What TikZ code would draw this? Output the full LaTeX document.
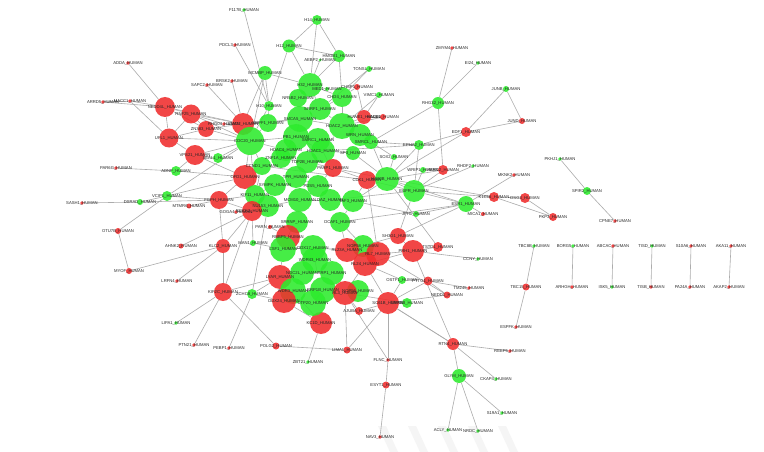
\documentclass[tikz,border=0pt]{standalone}
\usepackage{fontspec}
\setmainfont{Liberation Sans}
\pgfdeclarelayer{bg}\pgfdeclarelayer{fg}
\pgfsetlayers{bg,main,fg}
\definecolor{gn}{RGB}{45,235,45}
\definecolor{rd}{RGB}{240,45,45}
\definecolor{eg}{RGB}{172,172,172}
\newcommand\mkn[6]{\node[vx,fill=#4,minimum size=#5*2pt] (#1) at (#2,#3) {};\begin{pgfonlayer}{fg}\node[lab] at (#1.center) {#6\_HUMAN};\end{pgfonlayer}}
\begin{document}
\begin{tikzpicture}[x=1pt,y=-1pt,
  vx/.style={circle,inner sep=0pt,draw=none,fill opacity=0.88},
  lab/.style={inner sep=0pt,font=\fontsize{4.2}{4.6}\selectfont,text=black!85},
  lnk/.style={draw=eg,line width=0.6pt}]
\useasboundingbox (0,0) rectangle (764,452);
\begin{pgfonlayer}{bg}
\fill[white] (0,0) rectangle (764,452);
\foreach \xx in {378,408,438,468,498}{\fill[black!4] (\xx,426) -- (\xx+8,426) -- (\xx+20,452) -- (\xx+12,452) -- cycle;}
\end{pgfonlayer}
% left / top-left
\mkn{adda}{128}{63}{rd}{1.8}{ADDA}
\mkn{arrd5}{103}{102}{rd}{1.8}{ARRD5}
\mkn{macc}{130}{101}{rd}{1.8}{MACC1}
\mkn{nedd4l}{165}{107}{rd}{10}{NEDD4L}
\mkn{rnf25}{191}{114}{rd}{9.5}{RNF25}
\mkn{zn383}{206}{129}{rd}{8}{ZN383}
\mkn{rhg04}{224}{124}{rd}{1.8}{RHG04}
\mkn{ufl1}{169}{138}{rd}{9.5}{UFL1}
\mkn{vps21}{195}{155}{rd}{10}{VPS21}
\mkn{seal1}{218}{158}{gn}{5}{SEAL1}
\mkn{par6g}{116}{168}{rd}{1.8}{PAR6G}
\mkn{adnp}{176}{171}{gn}{5}{ADNP}
\mkn{vcip1}{167}{196}{gn}{5}{VCIP1}
\mkn{dsrad}{140}{202}{gn}{3}{DSRAD}
\mkn{sash1}{82}{203}{rd}{1.8}{SASH1}
\mkn{fgph}{219}{200}{rd}{9}{FGPH}
\mkn{mtmr6}{189}{206}{rd}{2.5}{MTMR6}
\mkn{goga4}{236}{212}{rd}{1.8}{GOGA4}
\mkn{otu7b}{118}{231}{rd}{3}{OTU7B}
\mkn{ahnk2}{181}{246}{rd}{2.5}{AHNK2}
\mkn{klc2}{223}{246}{rd}{7}{KLC2}
\mkn{man1}{253}{243}{gn}{3}{MAN1}
\mkn{myof}{129}{271}{rd}{3}{MYOF}
\mkn{lrfn4}{177}{281}{rd}{1.8}{LRFN4}
\mkn{kif2c}{223}{292}{rd}{9}{KIF2C}
\mkn{zchc8}{252}{294}{gn}{5}{ZCHC8}
\mkn{lipa1}{176}{323}{gn}{1.8}{LIPA1}
\mkn{ptn21}{194}{345}{rd}{1.8}{PTN21}
\mkn{pebp1}{229}{348}{rd}{1.8}{PEBP1}
\mkn{polg2}{276}{346}{rd}{3.5}{POLG2}
\mkn{zbt21}{308}{362}{gn}{1.8}{ZBT21}
\mkn{lima1}{347}{350}{rd}{3.5}{LIMA1}
\mkn{kc1d}{321}{323}{rd}{11}{KC1D}
\mkn{flnc}{388}{360}{rd}{1.8}{FLNC}
\mkn{esyt1}{386}{385}{rd}{3.5}{ESYT1}
\mkn{nav3}{380}{437}{rd}{1.8}{NAV3}
% top
\mkn{f117b}{244}{10}{gn}{1.8}{F117B}
\mkn{pdcl3}{235}{45}{rd}{1.8}{PDCL3}
\mkn{brsk2}{232}{81}{rd}{1.8}{BRSK2}
\mkn{sapc2}{207}{85}{rd}{1.8}{SAPC2}
\mkn{h14}{317}{20}{gn}{5}{H14}
\mkn{h12}{289}{46}{gn}{6.5}{H12}
\mkn{hmgb1}{339}{56}{gn}{6}{HMGB1}
\mkn{aebp2}{320}{60}{gn}{1.5}{AEBP2}
\mkn{tonsl}{369}{69}{gn}{3}{TONSL}
\mkn{mcmbp}{265}{73}{gn}{7}{MCMBP}
\mkn{h32}{310}{85}{gn}{12}{H32}
\mkn{med1}{327}{89}{gn}{2}{MED1}
\mkn{chsp1}{357}{87}{rd}{3}{CHSP1}
\mkn{vimc1}{379}{95}{gn}{3}{VIMC1}
\mkn{nr5b2}{298}{98}{gn}{9}{NR5B2}
\mkn{chd4}{342}{97}{gn}{10}{CHD4}
\mkn{h10}{269}{106}{gn}{5}{H10}
\mkn{srrf1}{320}{109}{gn}{11}{SRRF1}
\mkn{huwe1}{364}{117}{rd}{7}{HUWE1}
\mkn{hace1}{383}{117}{rd}{3}{HACE1}
% core
\mkn{atad2}{243}{124}{rd}{11}{ATAD2}
\mkn{brpf1}{268}{123}{gn}{9}{BRPF1}
\mkn{cdc20}{250}{141}{gn}{14}{CDC20}
\mkn{smca5}{300}{119}{gn}{13}{SMCA5}
\mkn{hdac2}{342}{126}{gn}{13}{HDAC2}
\mkn{wrn}{360}{135}{gn}{11}{WRN}
\mkn{xl}{371}{142}{gn}{7}{SMRCL}
\mkn{pb1}{296}{137}{gn}{13}{PB1}
\mkn{c1}{318}{140}{gn}{12}{SMRC1}
\mkn{hdac4}{286}{150}{gn}{11}{HDAC4}
\mkn{hdac1}{323}{151}{gn}{12}{HDAC1}
\mkn{x3}{353}{153}{gn}{7}{SP3}
\mkn{znf1a}{281}{158}{gn}{10}{ZNF1A}
\mkn{top2b}{307}{162}{gn}{11}{TOP2B}
\mkn{parp1}{333}{168}{rd}{9}{PARP1}
\mkn{ofd1}{245}{177}{rd}{12}{OFD1}
\mkn{ccnd1}{262}{166}{gn}{9}{CCND1}
\mkn{tpr}{296}{177}{gn}{11}{TPR}
\mkn{sympk}{275}{185}{gn}{11}{SYMPK}
\mkn{pds5}{318}{186}{gn}{11}{PDS5}
\mkn{kif11}{255}{195}{gn}{10}{KIF11}
\mkn{cdk1}{367}{180}{rd}{9}{CDK1}
\mkn{hs90b}{387}{179}{gn}{12}{HS90B}
\mkn{mcm10}{300}{200}{gn}{12}{MCM10}
\mkn{oaz}{330}{200}{gn}{11}{OAZ}
\mkn{taf3}{353}{201}{gn}{11}{TAF3}
\mkn{nu153}{268}{206}{gn}{11}{NU153}
\mkn{rock2}{252}{211}{rd}{10}{ROCK2}
\mkn{srrnp}{297}{222}{gn}{11}{SRRNP}
\mkn{dcaf1}{340}{222}{gn}{10}{DCAF1}
\mkn{parn}{270}{227}{rd}{2}{PARN}
\mkn{rbbp5}{288}{237}{rd}{12}{RBBP5}
\mkn{csf1}{283}{249}{gn}{13}{CSF1}
\mkn{ddx17}{313}{248}{gn}{13}{DDX17}
\mkn{g363}{363}{246}{gn}{11}{NOP58}
\mkn{rl23a}{347}{250}{rd}{12}{RL23A}
\mkn{rl7}{378}{254}{rd}{12}{RL7}
\mkn{rl24}{365}{264}{rd}{12}{RL24}
\mkn{wdr43}{315}{260}{gn}{13}{WDR43}
\mkn{lyar}{280}{277}{rd}{12}{LYAR}
\mkn{noc2}{302}{273}{gn}{12}{NOC2L}
\mkn{rrp1}{332}{273}{gn}{12}{RRP1}
\mkn{wdr3}{293}{291}{gn}{13}{WDR3}
\mkn{rrp1b}{323}{290}{gn}{13}{RRP1B}
\mkn{nop56}{358}{291}{gn}{11}{NOP56}
\mkn{rl3}{345}{293}{rd}{12}{RL3}
\mkn{ddx24}{284}{301}{rd}{12}{DDX24}
\mkn{utp20}{313}{303}{gn}{13}{UTP20}
% right
\mkn{sox2}{394}{157}{gn}{3}{SOX2}
\mkn{epha2}{419}{145}{gn}{5}{EPHA2}
\mkn{wrip1}{423}{170}{gn}{3}{WRIP1}
\mkn{herc2}{443}{170}{rd}{5}{HERC2}
\mkn{egfr}{414}{191}{gn}{11}{EGFR}
\mkn{rhdf2}{473}{166}{gn}{1.8}{RHDF2}
\mkn{mknk2}{514}{175}{rd}{1.8}{MKNK2}
\mkn{k1c16}{494}{197}{rd}{5}{K1C16}
\mkn{dsg3}{525}{198}{rd}{5}{DSG3}
\mkn{pkp3}{553}{217}{rd}{4}{PKP3}
\mkn{micat}{483}{214}{rd}{2}{MICA1}
\mkn{esr1}{466}{204}{gn}{8}{ESR1}
\mkn{jph1}{416}{214}{gn}{3}{JPH1}
\mkn{sh3g1}{398}{236}{rd}{8}{SH3G1}
\mkn{prh1}{413}{251}{rd}{11}{PRH1}
\mkn{tstd1}{438}{247}{rd}{5}{TSTD1}
\mkn{ccny}{478}{259}{gn}{1.8}{CCNY}
\mkn{ostf1}{402}{280}{gn}{4}{OSTF1}
\mkn{pttg1}{428}{281}{rd}{4.5}{PTTG1}
\mkn{tm245}{469}{288}{rd}{1.8}{TM245}
\mkn{nedd1}{447}{295}{rd}{3.5}{NEDD1}
\mkn{sc61b}{388}{303}{rd}{11}{SC61B}
\mkn{srprs}{407}{303}{gn}{5}{SRPRB}
\mkn{ajuba}{359}{311}{rd}{4}{AJUBA}
\mkn{rtn4}{453}{344}{rd}{6}{RTN4}
\mkn{glym}{459}{376}{gn}{7}{GLYM}
\mkn{ckap4}{496}{379}{gn}{1.8}{CKAP4}
\mkn{reep5}{510}{351}{rd}{1.8}{REEP5}
\mkn{s19a1}{502}{413}{gn}{1.8}{S19A1}
\mkn{acly}{448}{430}{gn}{1.8}{ACLY}
\mkn{nrdc}{478}{431}{gn}{1.8}{NRDC}
\mkn{espfk}{516}{327}{rd}{1.8}{ESPFK}
\mkn{tbc15}{526}{287}{rd}{3.5}{TBC15}
\mkn{tbc8b}{534}{246}{gn}{1.8}{TBC8B}
\mkn{borg5}{573}{246}{gn}{1.8}{BORG5}
\mkn{arhgh}{572}{287}{rd}{1.8}{ARHGH}
\mkn{abcac}{613}{246}{rd}{1.8}{ABCAC}
\mkn{isk5}{612}{287}{gn}{1.8}{ISK5}
\mkn{tisd}{652}{246}{gn}{1.8}{TISD}
\mkn{tisb}{651}{287}{rd}{1.8}{TISB}
\mkn{s10a6}{691}{246}{rd}{1.8}{S10A6}
\mkn{pa24a}{690}{287}{rd}{1.8}{PA24A}
\mkn{aka11}{731}{246}{rd}{1.8}{AKA11}
\mkn{akap2}{729}{287}{rd}{1.8}{AKAP2}
\mkn{pkhj1}{560}{159}{gn}{1.8}{PKHJ1}
\mkn{spir2}{587}{191}{gn}{4}{SPIR2}
\mkn{cpne7}{615}{221}{rd}{1.8}{CPNE7}
\mkn{zmym4}{452}{48}{rd}{1.8}{ZMYM4}
\mkn{ei24}{478}{63}{gn}{1.8}{EI24}
\mkn{rhg32}{438}{103}{gn}{6}{RHG32}
\mkn{junb}{506}{89}{gn}{3}{JUNB}
\mkn{jund}{522}{121}{rd}{3}{JUND}
\mkn{edf1}{466}{132}{rd}{5}{EDF1}
\begin{pgfonlayer}{bg}
\foreach \a/\b in {adda/nedd4l,arrd5/macc,macc/nedd4l,macc/ufl1,arrd5/nedd4l,nedd4l/rnf25,nedd4l/ufl1,nedd4l/zn383,nedd4l/atad2,rnf25/zn383,rnf25/ufl1,rnf25/atad2,rnf25/cdc20,zn383/cdc20,zn383/atad2,rhg04/atad2,rhg04/rnf25,ufl1/vps21,ufl1/cdc20,ufl1/zn383,vps21/seal1,vps21/ofd1,vps21/cdc20,seal1/cdc20,vps21/adnp,par6g/adnp,adnp/ofd1,vcip1/ofd1,vcip1/fgph,vcip1/dsrad,vcip1/cdc20,dsrad/sash1,dsrad/fgph,mtmr6/fgph,fgph/ofd1,fgph/rock2,fgph/kif11,goga4/rock2,otu7b/vcip1,otu7b/myof,myof/klc2,ahnk2/rock2,klc2/rock2,klc2/fgph,lrfn4/klc2,kif2c/rock2,kif2c/klc2,kif2c/lipa1,kif2c/ptn21,kif2c/polg2,kif2c/lyar,zchc8/lyar,zchc8/pebp1,zchc8/nu153,man1/rock2,man1/csf1,polg2/lima1,kc1d/zbt21,kc1d/ddx24,kc1d/utp20,kc1d/wdr3,lima1/sc61b,lima1/rl3,flnc/esyt1,esyt1/nav3,flnc/sc61b,flnc/rl3,f117b/h10,pdcl3/h10,brsk2/atad2,sapc2/atad2,h14/h12,h14/hmgb1,h14/h32,h12/hmgb1,h12/h32,h12/h10,hmgb1/h32,hmgb1/chd4,aebp2/h32,mcmbp/h10,mcmbp/h32,mcmbp/cdc20,mcmbp/atad2,h32/nr5b2,h32/srrf1,h32/chd4,h32/med1,tonsl/chd4,tonsl/srrf1,chsp1/chd4,chsp1/huwe1,vimc1/huwe1,vimc1/hdac2,h10/brpf1,h10/cdc20,hace1/huwe1,hace1/hdac2,zmym4/rhg32,ei24/rhg32,rhg32/xl,rhg32/herc2,junb/edf1,junb/jund,jund/edf1,edf1/epha2,edf1/hs90b,epha2/xl,epha2/hs90b,epha2/egfr,epha2/hdac1,sox2/hs90b,sox2/wrn,wrip1/egfr,herc2/egfr,herc2/hs90b,rhdf2/egfr,mknk2/esr1,k1c16/dsg3,k1c16/pkp3,dsg3/pkp3,k1c16/egfr,k1c16/hs90b,micat/esr1,esr1/egfr,esr1/hs90b,esr1/jph1,esr1/sh3g1,esr1/dcaf1,jph1/taf3,egfr/hs90b,egfr/cdk1,egfr/sh3g1,egfr/oaz,sh3g1/prh1,prh1/tstd1,prh1/ccny,tstd1/hs90b,prh1/rl7,ostf1/sc61b,ostf1/rl24,pttg1/sc61b,pttg1/tm245,pttg1/nedd1,nedd1/sc61b,nedd1/rl7,rtn4/prh1,rtn4/sc61b,rtn4/reep5,rtn4/ckap4,rtn4/glym,glym/acly,glym/nrdc,glym/s19a1,sc61b/srprs,sc61b/ajuba,sc61b/rl24,ajuba/rl3,pkhj1/spir2,spir2/cpne7,tbc8b/tbc15,tbc15/espfk,borg5/arhgh,abcac/isk5,tisd/tisb,s10a6/pa24a,aka11/akap2,atad2/cdc20,atad2/brpf1,atad2/smca5,brpf1/smca5,brpf1/cdc20,cdc20/pb1,cdc20/hdac4,cdc20/ccnd1,cdc20/kif11,cdc20/ofd1,smca5/hdac2,smca5/pb1,smca5/srrf1,srrf1/hdac2,srrf1/chd4,chd4/hdac2,hdac2/wrn,hdac2/hdac1,hdac1/pb1,hdac1/c1,hdac1/x3,wrn/xl,wrn/huwe1,huwe1/hdac2,pb1/hdac4,hdac4/znf1a,znf1a/top2b,top2b/parp1,parp1/hdac1,parp1/cdk1,cdk1/hs90b,hs90b/parp1,ccnd1/kif11,ccnd1/cdk1,tpr/sympk,tpr/top2b,sympk/kif11,pds5/tpr,pds5/oaz,pds5/parp1,mcm10/oaz,mcm10/nu153,oaz/taf3,taf3/hs90b,taf3/cdk1,nu153/rock2,rock2/kif11,rock2/ofd1,srrnp/rbbp5,srrnp/mcm10,dcaf1/taf3,dcaf1/rl23a,parn/rbbp5,rbbp5/csf1,csf1/ddx17,ddx17/rl23a,rl23a/rl7,rl7/rl24,rl24/rl3,wdr43/ddx17,wdr43/rrp1,lyar/noc2,noc2/wdr3,wdr3/rrp1b,rrp1b/rl3,rl3/nop56,ddx24/utp20,utp20/rrp1b,ddx24/lyar,lyar/csf1,ofd1/ccnd1,x3/hs90b,xl/hs90b,cdk1/rl7,sh3g1/rl23a,prh1/rl24,srprs/rl3,zchc8/ddx24,g363/rl7,g363/dcaf1,sc61b/rtn4}
  \draw[lnk] (\a) -- (\b);
\end{pgfonlayer}
\end{tikzpicture}
\end{document}
